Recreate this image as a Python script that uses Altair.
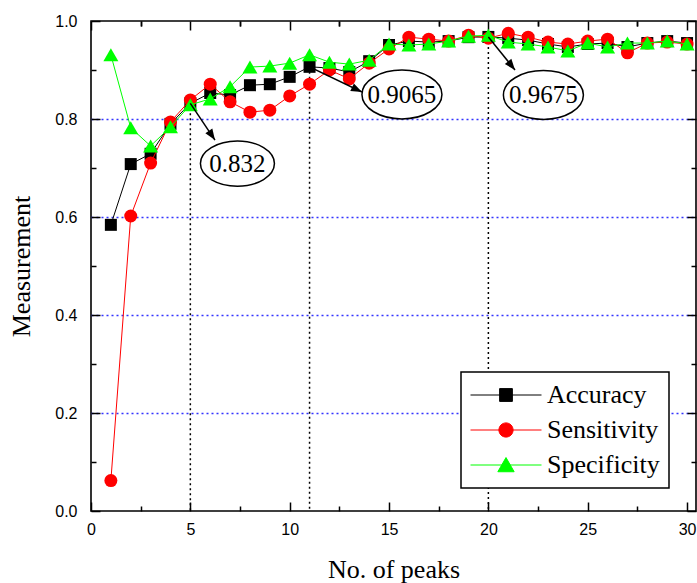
import altair as alt
import pandas as pd
import numpy as np

# ---------------- data ----------------
peaks = list(range(1, 31))
accuracy = [0.584, 0.708, 0.729, 0.790, 0.832, 0.853, 0.849, 0.869, 0.871, 0.886,
            0.9065, 0.904, 0.896, 0.918, 0.951, 0.959, 0.957, 0.959, 0.967, 0.9675,
            0.965, 0.961, 0.953, 0.947, 0.953, 0.955, 0.947, 0.955, 0.959, 0.955]
sensitivity = [0.062, 0.602, 0.710, 0.794, 0.839, 0.871, 0.835, 0.814, 0.818, 0.847,
               0.871, 0.900, 0.882, 0.914, 0.943, 0.967, 0.963, 0.959, 0.971, 0.965,
               0.975, 0.967, 0.957, 0.953, 0.959, 0.963, 0.935, 0.955, 0.957, 0.953]
specificity = [0.931, 0.782, 0.745, 0.784, 0.829, 0.841, 0.866, 0.906, 0.908, 0.914,
               0.931, 0.916, 0.912, 0.920, 0.953, 0.951, 0.953, 0.959, 0.969, 0.971,
               0.957, 0.953, 0.947, 0.939, 0.955, 0.947, 0.955, 0.955, 0.959, 0.953]

series_names = ["Accuracy", "Sensitivity", "Specificity"]
series_values = [accuracy, sensitivity, specificity]

mark_x = [5, 11, 20]
mark_y = [0.832, 0.9065, 0.9675]
mark_labels = ["0.832", "0.9065", "0.9675"]
arrow_end_x = [6.24, 13.64, 21.34]
arrow_end_y = [0.757, 0.855, 0.900]
bubble_x = [7.37, 15.65, 22.77]
bubble_y = [0.709, 0.850, 0.849]

x_ticks = [0, 5, 10, 15, 20, 25, 30]
x_minor = [2.5, 7.5, 12.5, 17.5, 22.5, 27.5]
y_ticks = [0.0, 0.2, 0.4, 0.6, 0.8, 1.0]
y_minor = [0.1, 0.3, 0.5, 0.7, 0.9]
y_grid = [0.2, 0.4, 0.6, 0.8]

# ---------------- styles ----------------
W, H = 605, 490
XMAX = 30.45
SERIF = "Liberation Serif"
SANS = "Liberation Sans"
colors = ["#000000", "#ff0000", "#00ff00"]
shapes = ["square", "circle", "triangle-up"]
sizes = [144, 169, 225]
legend_paths = [
    "M-1,0H1M-0.18,-0.18H0.18V0.18H-0.18Z",
    "M-1,0H1M0.2,0A0.2,0.2,0,1,1,-0.2,0A0.2,0.2,0,1,1,0.2,0Z",
    "M-1,0H1M0,-0.21L0.23,0.19L-0.23,0.19Z",
]

xs = alt.Scale(domain=[0, XMAX], nice=False, zero=False)
ys = alt.Scale(domain=[0, 1], nice=False, zero=False)

base_df = pd.DataFrame({"x": peaks, "v": accuracy})

# ---------------- axes ----------------
tick_common = dict(labels=False, title=None, domain=False, grid=False,
                   tickColor="black", tickWidth=1.5)

x_label_axis = alt.Axis(orient="bottom", values=x_ticks, ticks=False, domain=False, grid=False,
                        labelFont=SANS, labelFontSize=16, labelColor="black", labelPadding=10,
                        labelFlush=False, labelOverlap=False,
                        title="No. of peaks", titleFont=SERIF, titleFontSize=26,
                        titleFontWeight="normal", titleColor="black", titlePadding=19)
y_label_axis = alt.Axis(orient="left", values=y_ticks, format=".1f", ticks=False, domain=False,
                        grid=False, labelFont=SANS, labelFontSize=16, labelColor="black",
                        labelPadding=14, labelOverlap=False,
                        title="Measurement", titleFont=SERIF, titleFontSize=26,
                        titleFontWeight="normal", titleColor="black", titlePadding=20)
y_grid_axis = alt.Axis(orient="left", values=y_grid, grid=True, gridColor="#3333ff",
                       gridDash=[2, 3], gridWidth=1.5, gridOpacity=1, labels=False, ticks=False,
                       domain=False, title=None)

x_bot_major = alt.Axis(orient="top", offset=-H, values=x_ticks, tickSize=9, **tick_common)
x_bot_minor = alt.Axis(orient="top", offset=-H, values=x_minor, tickSize=5, **tick_common)
x_top_major = alt.Axis(orient="bottom", offset=-H, values=x_ticks, tickSize=9, **tick_common)
x_top_minor = alt.Axis(orient="bottom", offset=-H, values=x_minor, tickSize=5, **tick_common)
y_left_major = alt.Axis(orient="right", offset=-W, values=y_ticks, tickSize=9, **tick_common)
y_left_minor = alt.Axis(orient="right", offset=-W, values=y_minor, tickSize=5, **tick_common)
y_right_major = alt.Axis(orient="left", offset=-W, values=y_ticks, tickSize=9, **tick_common)
y_right_minor = alt.Axis(orient="left", offset=-W, values=y_minor, tickSize=5, **tick_common)


def axis_layer(xaxis, yaxis):
    return alt.Chart(base_df).mark_point(opacity=0).encode(
        x=alt.X("x:Q", scale=xs, axis=xaxis),
        y=alt.Y("v:Q", scale=ys, axis=yaxis),
    )


layers = [
    axis_layer(x_label_axis, y_grid_axis),
    axis_layer(x_bot_major, y_label_axis),
    axis_layer(x_bot_minor, y_left_major),
    axis_layer(x_top_major, y_left_minor),
    axis_layer(x_top_minor, y_right_major),
    axis_layer(x_top_minor, y_right_minor),
]

# ---------------- vertical dotted guides ----------------
marks_df = pd.DataFrame({"x": mark_x, "y": mark_y, "label": mark_labels,
                         "ex": arrow_end_x, "ey": arrow_end_y,
                         "bx": bubble_x, "by": bubble_y})
dx_px = (marks_df["ex"] - marks_df["x"]) * W / XMAX
dy_up = (marks_df["ey"] - marks_df["y"]) * H
marks_df["angle"] = (np.degrees(np.arctan2(dx_px, dy_up)) + 360) % 360

layers.append(
    alt.Chart(marks_df).mark_rule(color="black", strokeWidth=1.5, strokeDash=[2, 3]).encode(
        x=alt.X("x:Q", scale=xs, axis=None),
        y=alt.Y("y:Q", scale=ys, axis=None),
        y2=alt.value("height"),
    )
)

# ---------------- series ----------------
long_rows = []
for name, vals, c, shp, sz in zip(series_names, series_values, colors, shapes, sizes):
    sdf = pd.DataFrame({"x": peaks, "v": vals, "series": name})
    long_rows.append(sdf)
    layers.append(
        alt.Chart(sdf).mark_line(color=c, strokeWidth=1).encode(
            x=alt.X("x:Q", scale=xs, axis=None),
            y=alt.Y("v:Q", scale=ys, axis=None),
        )
    )
    layers.append(
        alt.Chart(sdf).mark_point(shape=shp, filled=True, color=c, size=sz, opacity=1).encode(
            x=alt.X("x:Q", scale=xs, axis=None),
            y=alt.Y("v:Q", scale=ys, axis=None),
        )
    )
long_df = pd.concat(long_rows, ignore_index=True)

# ---------------- annotations ----------------
layers.append(
    alt.Chart(marks_df).mark_rule(color="black", strokeWidth=1.5).encode(
        x=alt.X("x:Q", scale=xs, axis=None),
        y=alt.Y("y:Q", scale=ys, axis=None),
        x2="ex:Q",
        y2="ey:Q",
    )
)
layers.append(
    alt.Chart(marks_df).mark_point(shape="M0,0L0.38,1L-0.38,1Z", filled=True, color="black",
                                   size=484, opacity=1).encode(
        x=alt.X("ex:Q", scale=xs, axis=None),
        y=alt.Y("ey:Q", scale=ys, axis=None),
        angle=alt.Angle("angle:Q", scale=None),
    )
)
layers.append(
    alt.Chart(marks_df).mark_point(shape="M-1,0A1,0.61,0,1,1,1,0A1,0.61,0,1,1,-1,0Z",
                                   filled=False, color="black", strokeWidth=1.5,
                                   opacity=1).encode(
        x=alt.X("bx:Q", scale=xs, axis=None),
        y=alt.Y("by:Q", scale=ys, axis=None),
        size=alt.condition("datum.label == '0.832'", alt.value(5476), alt.value(6400)),
    )
)
layers.append(
    alt.Chart(marks_df).mark_text(font=SERIF, fontSize=25, color="black",
                                  align="center", baseline="middle").encode(
        x=alt.X("bx:Q", scale=xs, axis=None),
        y=alt.Y("by:Q", scale=ys, axis=None),
        text="label:N",
    )
)

# ---------------- legend ----------------
leg = alt.Legend(orient="none", legendX=370, legendY=351, title=None,
                 strokeColor="black", fillColor="white", padding=9, rowPadding=7,
                 clipHeight=28,
                 labelFont=SERIF, labelFontSize=26, labelColor="black", labelOffset=5,
                 labelLimit=300, symbolSize=5041, symbolStrokeWidth=1)
layers.append(
    alt.Chart(long_df).mark_point(filled=True, opacity=1).encode(
        x=alt.X("x:Q", scale=xs, axis=None),
        y=alt.Y("v:Q", scale=ys, axis=None),
        shape=alt.Shape("series:N", scale=alt.Scale(domain=series_names, range=legend_paths),
                        legend=leg),
        fill=alt.Fill("series:N", scale=alt.Scale(domain=series_names, range=colors), legend=leg),
        stroke=alt.Stroke("series:N", scale=alt.Scale(domain=series_names, range=colors),
                          legend=leg),
    ).transform_filter("false")
)

chart = alt.layer(*layers).properties(
    width=W, height=H,
    padding={"left": 91, "top": 21, "right": 1, "bottom": 72},
    autosize=alt.AutoSizeParams(type="none"),
    background="white",
).resolve_axis(x="independent", y="independent").configure_view(
    stroke="black", strokeWidth=1.6
).configure_legend(strokeWidth=1.5)

chart.save("out.html", embed_options={"renderer": "svg", "actions": False})
